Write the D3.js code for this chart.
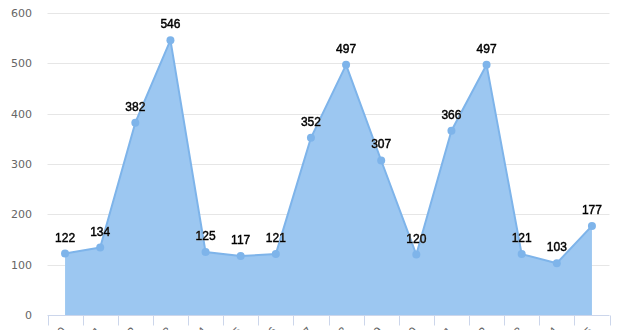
<!DOCTYPE html>
<html>
<head>
<meta charset="utf-8">
<script src="https://cdn.jsdelivr.net/npm/d3@7"></script>
<style>
  html, body { margin: 0; padding: 0; background: #fff; }
  svg { display: block; }
</style>
</head>
<body>
<svg id="chart" width="620" height="330"></svg>
<script>
const categories = ["2010","2011","2012","2013","2014","2015","2016","2017","2018","2019","2020","2021","2022","2023","2024","2025"];
const values = [122,134,382,546,125,117,121,352,497,307,120,366,497,121,103,177];
const yTicks = [0,100,200,300,400,500,600];

const W = 620, H = 330;
const m = { left: 47.5, right: 10.5, top: 13, bottom: 15 };
const svg = d3.select("#chart");

const x = d3.scaleBand().domain(categories).range([m.left, W - m.right]).padding(0);
const y = d3.scaleLinear().domain([0, 600]).range([H - m.bottom, m.top]);
const cx = d => x(d) + x.bandwidth() / 2;

// grid
svg.append("g").selectAll("line").data(yTicks.filter(t => t > 0)).join("line")
  .attr("x1", m.left).attr("x2", W - m.right)
  .attr("y1", d => Math.round(y(d)) + 0.5).attr("y2", d => Math.round(y(d)) + 0.5)
  .attr("stroke", "#e6e6e6").attr("stroke-width", 1);

// y labels
svg.append("g").selectAll("text").data(yTicks).join("text")
  .attr("x", 32).attr("y", d => y(d) + 4)
  .attr("text-anchor", "end")
  .attr("font-family", "DejaVu Sans, sans-serif").attr("font-size", 11)
  .attr("fill", "#666")
  .text(d => d);

const pts = categories.map((c, i) => ({ c, v: values[i] }));

// area
const area = d3.area().x(d => cx(d.c)).y0(y(0)).y1(d => y(d.v));
svg.append("path").datum(pts).attr("d", area)
  .attr("fill", "#9cc7f1").attr("fill-opacity", 1);

// line
const line = d3.line().x(d => cx(d.c)).y(d => y(d.v));
svg.append("path").datum(pts).attr("d", line)
  .attr("fill", "none").attr("stroke", "#7eb4ea").attr("stroke-width", 2)
  .attr("stroke-linejoin", "round");

// points
svg.append("g").selectAll("circle").data(pts).join("circle")
  .attr("cx", d => cx(d.c)).attr("cy", d => y(d.v)).attr("r", 4)
  .attr("fill", "#7eb4ea");

// x axis
const gx = svg.append("g").attr("transform", `translate(0,${Math.round(y(0)) + 0.5})`);
gx.append("line").attr("x1", m.left).attr("x2", W - m.right)
  .attr("stroke", "#ccd6eb");
const bounds = categories.map(c => x(c)).concat([x(categories[categories.length - 1]) + x.bandwidth()]);
gx.selectAll("line.tick").data(bounds).join("line").attr("class", "tick")
  .attr("x1", d => Math.round(d) + 0.5).attr("x2", d => Math.round(d) + 0.5)
  .attr("y1", 0).attr("y2", 10).attr("stroke", "#ccd6eb");
gx.selectAll("text").data(categories).join("text")
  .attr("transform", d => `translate(${cx(d) + 2},${16}) rotate(-45)`)
  .attr("text-anchor", "end")
  .attr("font-family", "DejaVu Sans, sans-serif").attr("font-size", 11)
  .attr("fill", "#666")
  .text(d => d);

// data labels
const lbl = svg.append("g").selectAll("text").data(pts).join("text")
  .attr("x", d => cx(d.c)).attr("y", d => y(d.v) - 12)
  .attr("text-anchor", "middle")
  .attr("font-family", "Liberation Sans, Arial, sans-serif").attr("font-size", 12)
  .attr("fill", "#000")
  .attr("stroke", "#000").attr("stroke-width", 0.45)
  .style("filter", "drop-shadow(0 0 0.6px #fff)")
  .text(d => d.v);
</script>
</body>
</html>
